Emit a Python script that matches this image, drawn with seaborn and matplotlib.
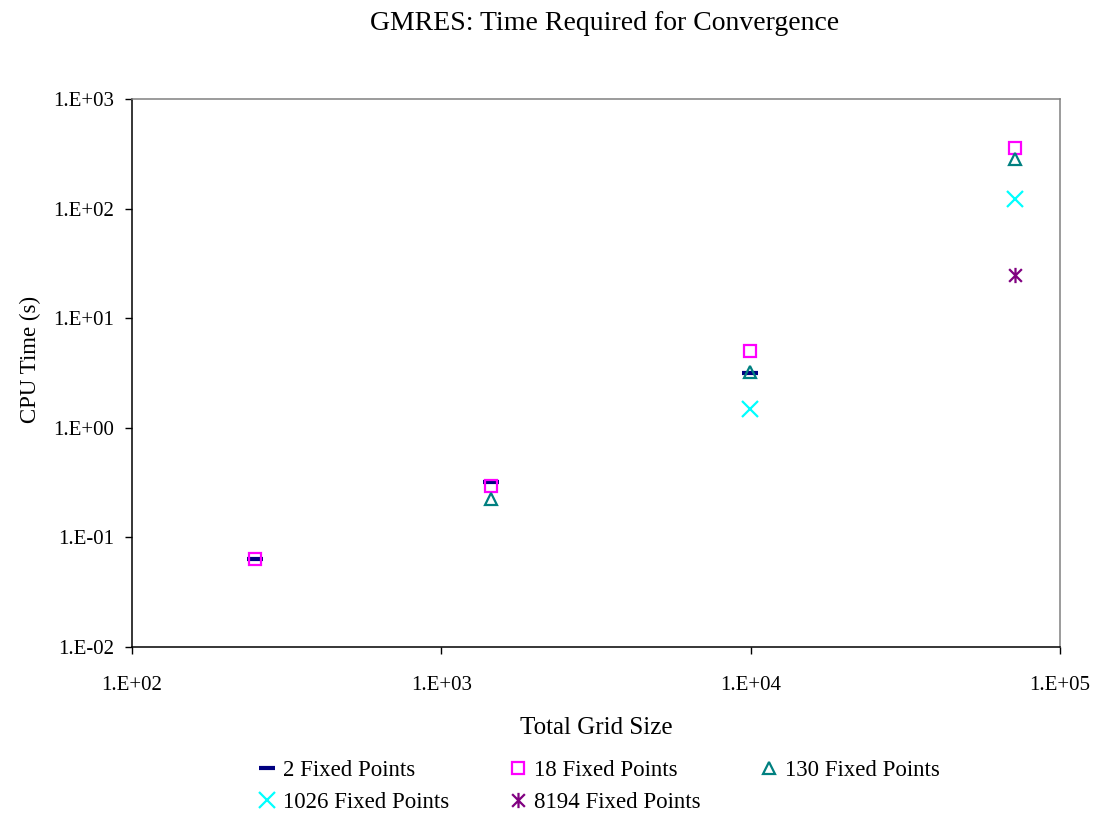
import matplotlib
matplotlib.use("Agg")
import matplotlib.pyplot as plt
from matplotlib.path import Path
import seaborn as sns

# grid sizes and CPU times
grid = [250, 1450, 9950, 71600]

t_2 = [0.063, 0.32, 3.15]
t_18 = [0.063, 0.295, 5.0, 360]
t_130 = [0.223, 3.2, 285]
t_1026 = [1.48, 122]
t_8194 = [25]

x_ticks = [1e2, 1e3, 1e4, 1e5]
x_labels = ["1.E+02", "1.E+03", "1.E+04", "1.E+05"]
y_ticks = [1e-2, 1e-1, 1e0, 1e1, 1e2, 1e3]
y_labels = ["1.E-02", "1.E-01", "1.E+00", "1.E+01", "1.E+02", "1.E+03"]

sns.set_style("white")
plt.rcParams["font.family"] = ["Liberation Serif", "DejaVu Serif"]
plt.rcParams["text.color"] = "black"
plt.rcParams["axes.labelcolor"] = "black"
plt.rcParams["xtick.color"] = "black"
plt.rcParams["ytick.color"] = "black"

# excel-style asterisk: an x with a vertical bar
M, L = Path.MOVETO, Path.LINETO
star = Path([(-1, -1), (1, 1), (-1, 1), (1, -1), (0, -1.2), (0, 1.2)],
            [M, L, M, L, M, L])

fig = plt.figure(figsize=(11.02, 8.15), dpi=100)
ax = fig.add_axes([0.1198, 0.2061, 0.8421, 0.6724])

series = [
    ("2 Fixed Points", grid[:3], t_2, "_", "#000080", True),
    ("18 Fixed Points", grid, t_18, "s", "#FF00FF", False),
    ("130 Fixed Points", grid[1:], t_130, "^", "#008080", False),
    ("1026 Fixed Points", grid[2:], t_1026, "x", "#00FFFF", True),
    ("8194 Fixed Points", grid[3:], t_8194, star, "#800080", False),
]

for name, xs, ys, mk, col, filled in series:
    sns.lineplot(x=xs, y=ys, ax=ax, marker=mk, linestyle="", color=col,
                 markersize=11 if mk in ("_", "x") or mk is star else 9,
                 markerfacecolor=col if filled else "none",
                 markeredgecolor=col, markeredgewidth=1.6 if mk != "_" else 3,
                 label=name)

ax.set_xscale("log")
ax.set_yscale("log")
ax.set_xlim(1e2, 1e5)
ax.set_ylim(1e-2, 1e3)
ax.set_xticks(x_ticks)
ax.set_xticklabels(x_labels)
ax.set_yticks(y_ticks)
ax.set_yticklabels(y_labels)
ax.minorticks_off()
ax.tick_params(axis="both", which="major", direction="out", length=5, width=1,
               color="black", labelsize=15, pad=8, left=True, bottom=True)
ax.tick_params(axis="x", pad=16)

for s in ["left", "bottom"]:
    ax.spines[s].set_color("black")
for s in ["top", "right"]:
    ax.spines[s].set_color("#808080")
for s in ax.spines.values():
    s.set_linewidth(1.1)

ax.set_xlabel("Total Grid Size", fontsize=18, labelpad=16)
ax.set_ylabel("CPU Time (s)", fontsize=16.5, labelpad=12)
ax.yaxis.set_label_coords(-0.098, 0.524)
fig.suptitle("GMRES: Time Required for Convergence", fontsize=20,
             x=0.549, y=0.987)

# fill legend row by row like the original
h, l = ax.get_legend_handles_labels()
order = [0, 3, 1, 4, 2]
ax.legend([h[i] for i in order], [l[i] for i in order],
          loc="upper center", bbox_to_anchor=(0.503, -0.19), ncol=3,
          frameon=False, fontsize=16.5, handlelength=0.8, handletextpad=0.3,
          columnspacing=2.6, labelspacing=0.45, borderaxespad=0)

fig.savefig("out.png", dpi=100)
